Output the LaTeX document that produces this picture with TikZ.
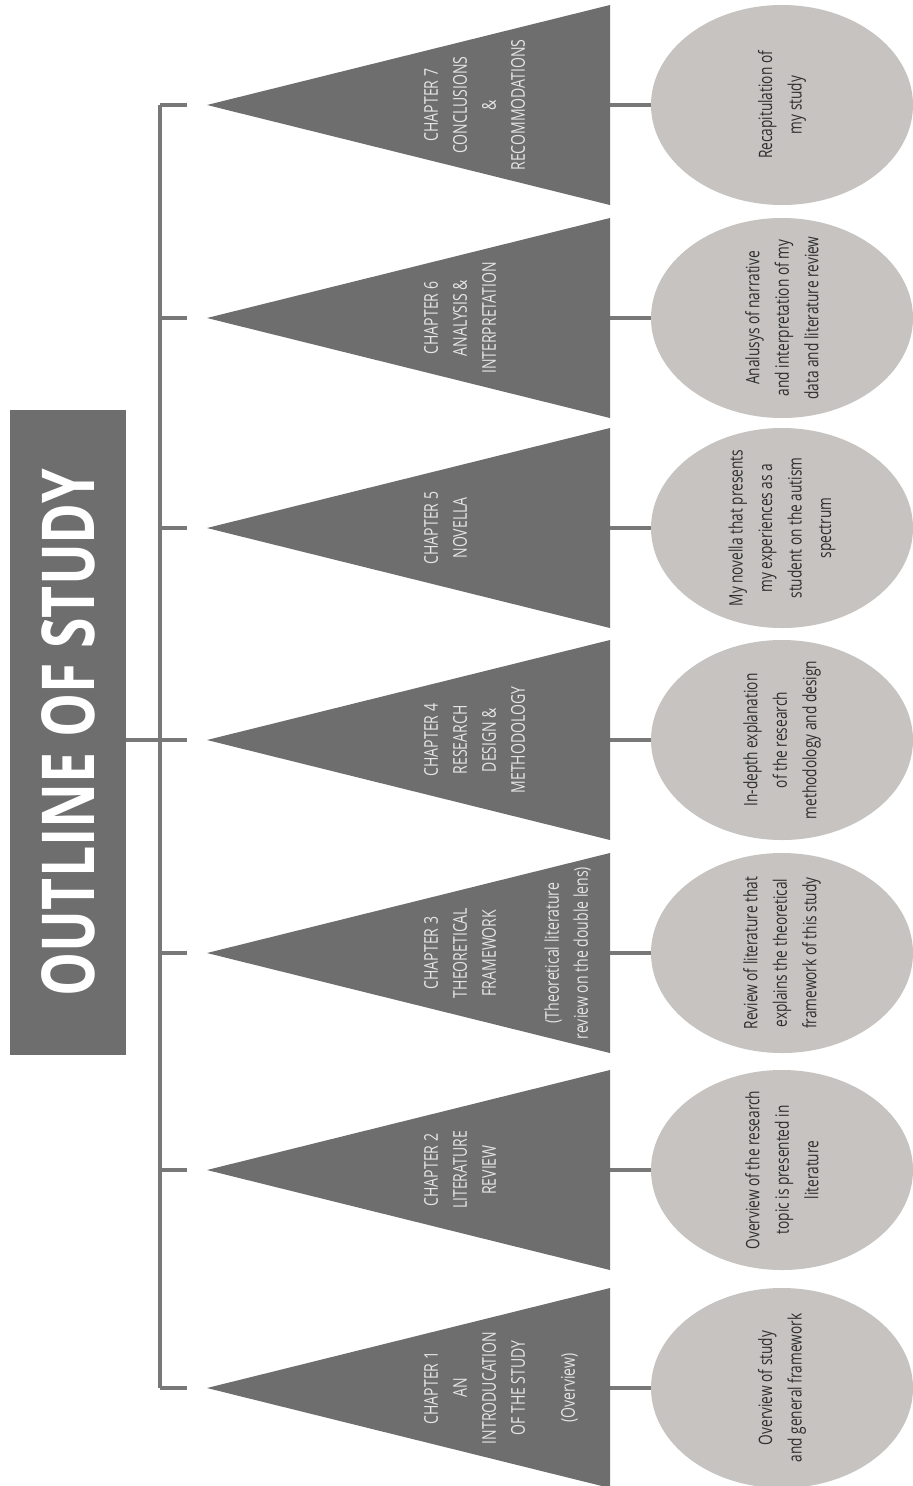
\documentclass[tikz,border=0pt]{standalone}
\usepackage{fontspec}
\setmainfont{Open Sans}
\newfontfamily\condfont{Open Sans}[FakeStretch=0.74]
\newfontfamily\titlefont{Open Sans}[FakeStretch=0.76]
\usetikzlibrary{shapes.geometric}
\definecolor{boxgray}{HTML}{6E6E6E}
\definecolor{linegray}{HTML}{787878}
\definecolor{ovalgray}{HTML}{C6C3C1}
\definecolor{ovaltext}{HTML}{2E2E2E}
\definecolor{lighttext}{HTML}{E4E4E4}
\newcommand\chap[4]{%
  \coordinate (sp#1) at (160,#2);
  \coordinate (tick#1) at (187,#2);
  \coordinate (tip#1) at (207,#2);
  \coordinate (base#1) at (610,#2);
  \fill[tri] (tip#1) -- (610,#2-100) -- (610,#2+100) -- cycle;
  \node[chtext] (ct#1) at (424,#2) {#3};
  \node[oval] (ov#1) at (782,#2) {};
  \node[ovtext] (ot#1) at (ov#1.center) {#4};
  \draw[conn] (base#1) -- (ov#1.west);
  \draw[conn] (sp#1) -- (tick#1);
}
\begin{document}
\begin{tikzpicture}[x=1pt,y=-1pt,
  conn/.style={draw=linegray,line width=3.5pt},
  tri/.style={fill=boxgray},
  titlebox/.style={fill=boxgray,rotate=90,minimum width=645pt,minimum height=116pt,inner sep=0pt,
    text=white,font=\titlefont\bfseries\fontsize{73}{80}\selectfont},
  chtext/.style={rotate=90,anchor=north,align=center,text=lighttext,inner sep=0pt,
    font=\condfont\fontsize{19}{29}\selectfont},
  oval/.style={ellipse,fill=ovalgray,minimum width=262pt,minimum height=200pt,inner sep=0pt},
  ovtext/.style={rotate=90,align=center,text=ovaltext,inner sep=0pt,
    font=\condfont\fontsize{18.5}{29.5}\selectfont}]
\useasboundingbox (0,0) rectangle (913,1486);
\fill[white] (0,0) rectangle (913,1486);
\chap{7}{105}{CHAPTER 7\\CONCLUSIONS\\\&\\RECOMMODATIONS}{Recapitulation of\\my study}
\chap{6}{318}{CHAPTER 6\\ANALYSIS \&\\INTERPRETATION}{Analusys of narrative\\and interpretation of my\\data and literature review}
\chap{5}{528}{CHAPTER 5\\NOVELLA}{My novella that presents\\my experiences as a\\student on the autism\\spectrum}
\chap{4}{740}{CHAPTER 4\\RESEARCH\\DESIGN \&\\METHODOLOGY}{In-depth explanation\\of the research\\methodology and design}
\chap{3}{953}{CHAPTER 3\\THEORETICAL\\FRAMEWORK\\[34pt](Theoretical literature\\review on the double lens)}{Review of literature that\\explains the theoretical\\framework of this study}
\chap{2}{1170}{CHAPTER 2\\LITERATURE\\REVIEW}{Overview of the research\\topic is presented in\\literature}
\chap{1}{1388}{CHAPTER 1\\AN\\INTRODUCATION\\OF THE STUDY\\[21pt](Overview)}{Overview of study\\and general framework}
% spine
\draw[conn] (sp7) -- (sp1);
\coordinate (mid) at (160,740);
\node[titlebox] (title) at (68,732.5) {OUTLINE OF STUDY};
\draw[conn] (title.south |- mid) -- (mid);
\end{tikzpicture}
\end{document}
